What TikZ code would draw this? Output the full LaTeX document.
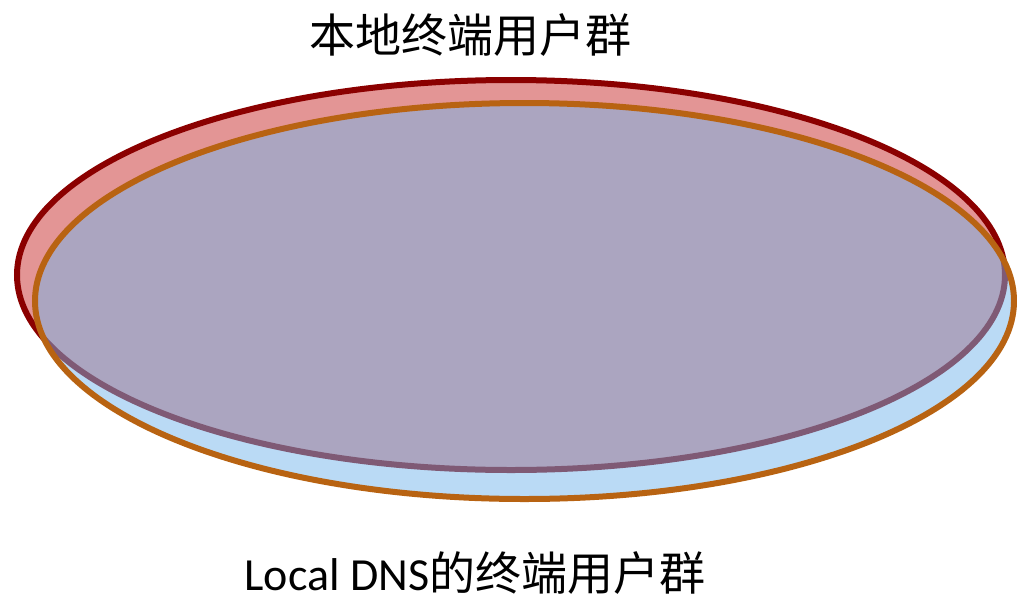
\documentclass[tikz,border=0pt]{standalone}
\usepackage{fontspec}
\newfontfamily\cjk{Noto Sans CJK SC}
\newfontfamily\carlito{Carlito}
\definecolor{redline}{RGB}{139,0,0}
\definecolor{redfill}{RGB}{227,149,149}
\definecolor{blueline}{RGB}{184,99,18}
\definecolor{bluefill}{RGB}{117,181,235}
\tikzset{
  groupA/.style={draw=redline, fill=redfill, line width=6pt},
  groupB/.style={draw=blueline, fill=bluefill, fill opacity=0.5, draw opacity=1, line width=6pt},
  caption/.style={inner sep=0pt}
}
\begin{document}
\begin{tikzpicture}[x=1pt, y=-1pt]
\useasboundingbox (0,0) rectangle (1017,600);
% users of the local area
\draw[groupA] (511,275) ellipse [x radius=494, y radius=195];
% users served by the local DNS
\draw[groupB] (524.5,301) ellipse [x radius=489.5, y radius=198];
\node[caption, anchor=center, font=\cjk\fontsize{46}{50}\selectfont] (top) at (470,35) {本地终端用户群};
\node[caption, anchor=base, font=\fontsize{46}{50}\selectfont] (bottom) at (475,590) {{\carlito Local DNS}{\cjk 的终端用户群}};
\end{tikzpicture}
\end{document}
